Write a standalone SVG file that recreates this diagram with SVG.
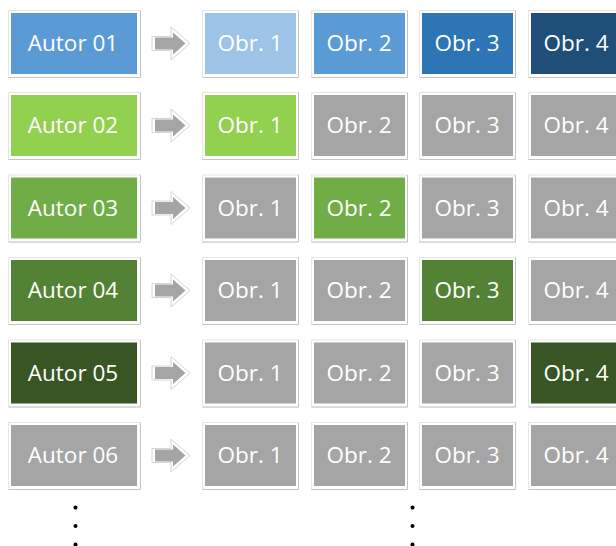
<svg xmlns="http://www.w3.org/2000/svg" xmlns:xlink="http://www.w3.org/1999/xlink" width="616" height="546" viewBox="0 0 616 546">
<style>
.frame{fill:#ffffff;stroke:#e6e6e6;stroke-width:1}
.shade{fill:none;stroke:#c4c4c4;stroke-width:1}
.t{font-family:"Open Sans","Noto Sans",sans-serif;font-size:22.5px;fill:#ffffff;text-anchor:middle}
.gray{fill:#a5a5a5}
.dot{fill:#000000}
</style>
<defs>
<g id="arr">
<path d="M0,-7 H19 V-16.5 L38,0 L19,16.5 V7 H0 Z" fill="#ffffff" stroke="#d4d4d4" stroke-width="1"/>
<path d="M3,-6 H21 V-11 L33.5,0 L21,11 V6 H3 Z" fill="#a5a5a5"/>
</g>
</defs>
<rect width="616" height="546" fill="#ffffff"/>

<g id="connectors">
<use xlink:href="#arr" x="152" y="43.5"/>
<use xlink:href="#arr" x="152" y="125.5"/>
<use xlink:href="#arr" x="152" y="208"/>
<use xlink:href="#arr" x="152" y="290.5"/>
<use xlink:href="#arr" x="152" y="373"/>
<use xlink:href="#arr" x="152" y="455.5"/>
</g>

<!-- Row 1 -->
<g id="autor01"><rect class="frame" x="8.5" y="10.5" width="132" height="67"/><path class="shade" d="M140.5,10.5 V77.5 H8.5"/><rect x="11" y="13" width="126" height="61" fill="#5b9bd5"/><text class="t" x="73" y="51">Autor 01</text></g>
<g id="r1o1"><rect class="frame" x="202.5" y="10.5" width="96" height="67"/><path class="shade" d="M298.5,10.5 V77.5 H202.5"/><rect x="205" y="13" width="91" height="61" fill="#9dc3e6"/><text class="t" x="250" y="51">Obr. 1</text></g>
<g id="r1o2"><rect class="frame" x="311.5" y="10.5" width="96" height="67"/><path class="shade" d="M407.5,10.5 V77.5 H311.5"/><rect x="314" y="13" width="91" height="61" fill="#5b9bd5"/><text class="t" x="359" y="51">Obr. 2</text></g>
<g id="r1o3"><rect class="frame" x="419.5" y="10.5" width="96" height="67"/><path class="shade" d="M515.5,10.5 V77.5 H419.5"/><rect x="422" y="13" width="91" height="61" fill="#2e75b6"/><text class="t" x="467" y="51">Obr. 3</text></g>
<g id="r1o4"><rect class="frame" x="528.5" y="10.5" width="96" height="67"/><path class="shade" d="M624.5,10.5 V77.5 H528.5"/><rect x="531" y="13" width="91" height="61" fill="#1f4e79"/><text class="t" x="576" y="51">Obr. 4</text></g>

<!-- Row 2 -->
<g id="autor02"><rect class="frame" x="8.5" y="92.5" width="132" height="67"/><path class="shade" d="M140.5,92.5 V159.5 H8.5"/><rect x="11" y="95" width="126" height="61" fill="#92d050"/><text class="t" x="73" y="133">Autor 02</text></g>
<g id="r2o1"><rect class="frame" x="202.5" y="92.5" width="96" height="67"/><path class="shade" d="M298.5,92.5 V159.5 H202.5"/><rect x="205" y="95" width="91" height="61" fill="#92d050"/><text class="t" x="250" y="133">Obr. 1</text></g>
<g id="r2o2"><rect class="frame" x="311.5" y="92.5" width="96" height="67"/><path class="shade" d="M407.5,92.5 V159.5 H311.5"/><rect class="gray" x="314" y="95" width="91" height="61"/><text class="t" x="359" y="133">Obr. 2</text></g>
<g id="r2o3"><rect class="frame" x="419.5" y="92.5" width="96" height="67"/><path class="shade" d="M515.5,92.5 V159.5 H419.5"/><rect class="gray" x="422" y="95" width="91" height="61"/><text class="t" x="467" y="133">Obr. 3</text></g>
<g id="r2o4"><rect class="frame" x="528.5" y="92.5" width="96" height="67"/><path class="shade" d="M624.5,92.5 V159.5 H528.5"/><rect class="gray" x="531" y="95" width="91" height="61"/><text class="t" x="576" y="133">Obr. 4</text></g>

<!-- Row 3 -->
<g id="autor03"><rect class="frame" x="8.5" y="175" width="132" height="67"/><path class="shade" d="M140.5,175 V242 H8.5"/><rect x="11" y="177.5" width="126" height="61" fill="#70ad47"/><text class="t" x="73" y="215.5">Autor 03</text></g>
<g id="r3o1"><rect class="frame" x="202.5" y="175" width="96" height="67"/><path class="shade" d="M298.5,175 V242 H202.5"/><rect class="gray" x="205" y="177.5" width="91" height="61"/><text class="t" x="250" y="215.5">Obr. 1</text></g>
<g id="r3o2"><rect class="frame" x="311.5" y="175" width="96" height="67"/><path class="shade" d="M407.5,175 V242 H311.5"/><rect x="314" y="177.5" width="91" height="61" fill="#70ad47"/><text class="t" x="359" y="215.5">Obr. 2</text></g>
<g id="r3o3"><rect class="frame" x="419.5" y="175" width="96" height="67"/><path class="shade" d="M515.5,175 V242 H419.5"/><rect class="gray" x="422" y="177.5" width="91" height="61"/><text class="t" x="467" y="215.5">Obr. 3</text></g>
<g id="r3o4"><rect class="frame" x="528.5" y="175" width="96" height="67"/><path class="shade" d="M624.5,175 V242 H528.5"/><rect class="gray" x="531" y="177.5" width="91" height="61"/><text class="t" x="576" y="215.5">Obr. 4</text></g>

<!-- Row 4 -->
<g id="autor04"><rect class="frame" x="8.5" y="257.5" width="132" height="67"/><path class="shade" d="M140.5,257.5 V324.5 H8.5"/><rect x="11" y="260" width="126" height="61" fill="#548235"/><text class="t" x="73" y="298">Autor 04</text></g>
<g id="r4o1"><rect class="frame" x="202.5" y="257.5" width="96" height="67"/><path class="shade" d="M298.5,257.5 V324.5 H202.5"/><rect class="gray" x="205" y="260" width="91" height="61"/><text class="t" x="250" y="298">Obr. 1</text></g>
<g id="r4o2"><rect class="frame" x="311.5" y="257.5" width="96" height="67"/><path class="shade" d="M407.5,257.5 V324.5 H311.5"/><rect class="gray" x="314" y="260" width="91" height="61"/><text class="t" x="359" y="298">Obr. 2</text></g>
<g id="r4o3"><rect class="frame" x="419.5" y="257.5" width="96" height="67"/><path class="shade" d="M515.5,257.5 V324.5 H419.5"/><rect x="422" y="260" width="91" height="61" fill="#548235"/><text class="t" x="467" y="298">Obr. 3</text></g>
<g id="r4o4"><rect class="frame" x="528.5" y="257.5" width="96" height="67"/><path class="shade" d="M624.5,257.5 V324.5 H528.5"/><rect class="gray" x="531" y="260" width="91" height="61"/><text class="t" x="576" y="298">Obr. 4</text></g>

<!-- Row 5 -->
<g id="autor05"><rect class="frame" x="8.5" y="340" width="132" height="67"/><path class="shade" d="M140.5,340 V407 H8.5"/><rect x="11" y="342.5" width="126" height="61" fill="#375623"/><text class="t" x="73" y="380.5">Autor 05</text></g>
<g id="r5o1"><rect class="frame" x="202.5" y="340" width="96" height="67"/><path class="shade" d="M298.5,340 V407 H202.5"/><rect class="gray" x="205" y="342.5" width="91" height="61"/><text class="t" x="250" y="380.5">Obr. 1</text></g>
<g id="r5o2"><rect class="frame" x="311.5" y="340" width="96" height="67"/><path class="shade" d="M407.5,340 V407 H311.5"/><rect class="gray" x="314" y="342.5" width="91" height="61"/><text class="t" x="359" y="380.5">Obr. 2</text></g>
<g id="r5o3"><rect class="frame" x="419.5" y="340" width="96" height="67"/><path class="shade" d="M515.5,340 V407 H419.5"/><rect class="gray" x="422" y="342.5" width="91" height="61"/><text class="t" x="467" y="380.5">Obr. 3</text></g>
<g id="r5o4"><rect class="frame" x="528.5" y="340" width="96" height="67"/><path class="shade" d="M624.5,340 V407 H528.5"/><rect x="531" y="342.5" width="91" height="61" fill="#375623"/><text class="t" x="576" y="380.5">Obr. 4</text></g>

<!-- Row 6 -->
<g id="autor06"><rect class="frame" x="8.5" y="422.5" width="132" height="67"/><path class="shade" d="M140.5,422.5 V489.5 H8.5"/><rect class="gray" x="11" y="425" width="126" height="61"/><text class="t" x="73" y="463">Autor 06</text></g>
<g id="r6o1"><rect class="frame" x="202.5" y="422.5" width="96" height="67"/><path class="shade" d="M298.5,422.5 V489.5 H202.5"/><rect class="gray" x="205" y="425" width="91" height="61"/><text class="t" x="250" y="463">Obr. 1</text></g>
<g id="r6o2"><rect class="frame" x="311.5" y="422.5" width="96" height="67"/><path class="shade" d="M407.5,422.5 V489.5 H311.5"/><rect class="gray" x="314" y="425" width="91" height="61"/><text class="t" x="359" y="463">Obr. 2</text></g>
<g id="r6o3"><rect class="frame" x="419.5" y="422.5" width="96" height="67"/><path class="shade" d="M515.5,422.5 V489.5 H419.5"/><rect class="gray" x="422" y="425" width="91" height="61"/><text class="t" x="467" y="463">Obr. 3</text></g>
<g id="r6o4"><rect class="frame" x="528.5" y="422.5" width="96" height="67"/><path class="shade" d="M624.5,422.5 V489.5 H528.5"/><rect class="gray" x="531" y="425" width="91" height="61"/><text class="t" x="576" y="463">Obr. 4</text></g>

<g id="dots">
<circle class="dot" cx="75.5" cy="507.5" r="2"/>
<circle class="dot" cx="75.5" cy="526" r="2"/>
<circle class="dot" cx="75.5" cy="544.5" r="2"/>
<circle class="dot" cx="412.5" cy="507.5" r="2"/>
<circle class="dot" cx="412.5" cy="526" r="2"/>
<circle class="dot" cx="412.5" cy="544.5" r="2"/>
</g>
</svg>
